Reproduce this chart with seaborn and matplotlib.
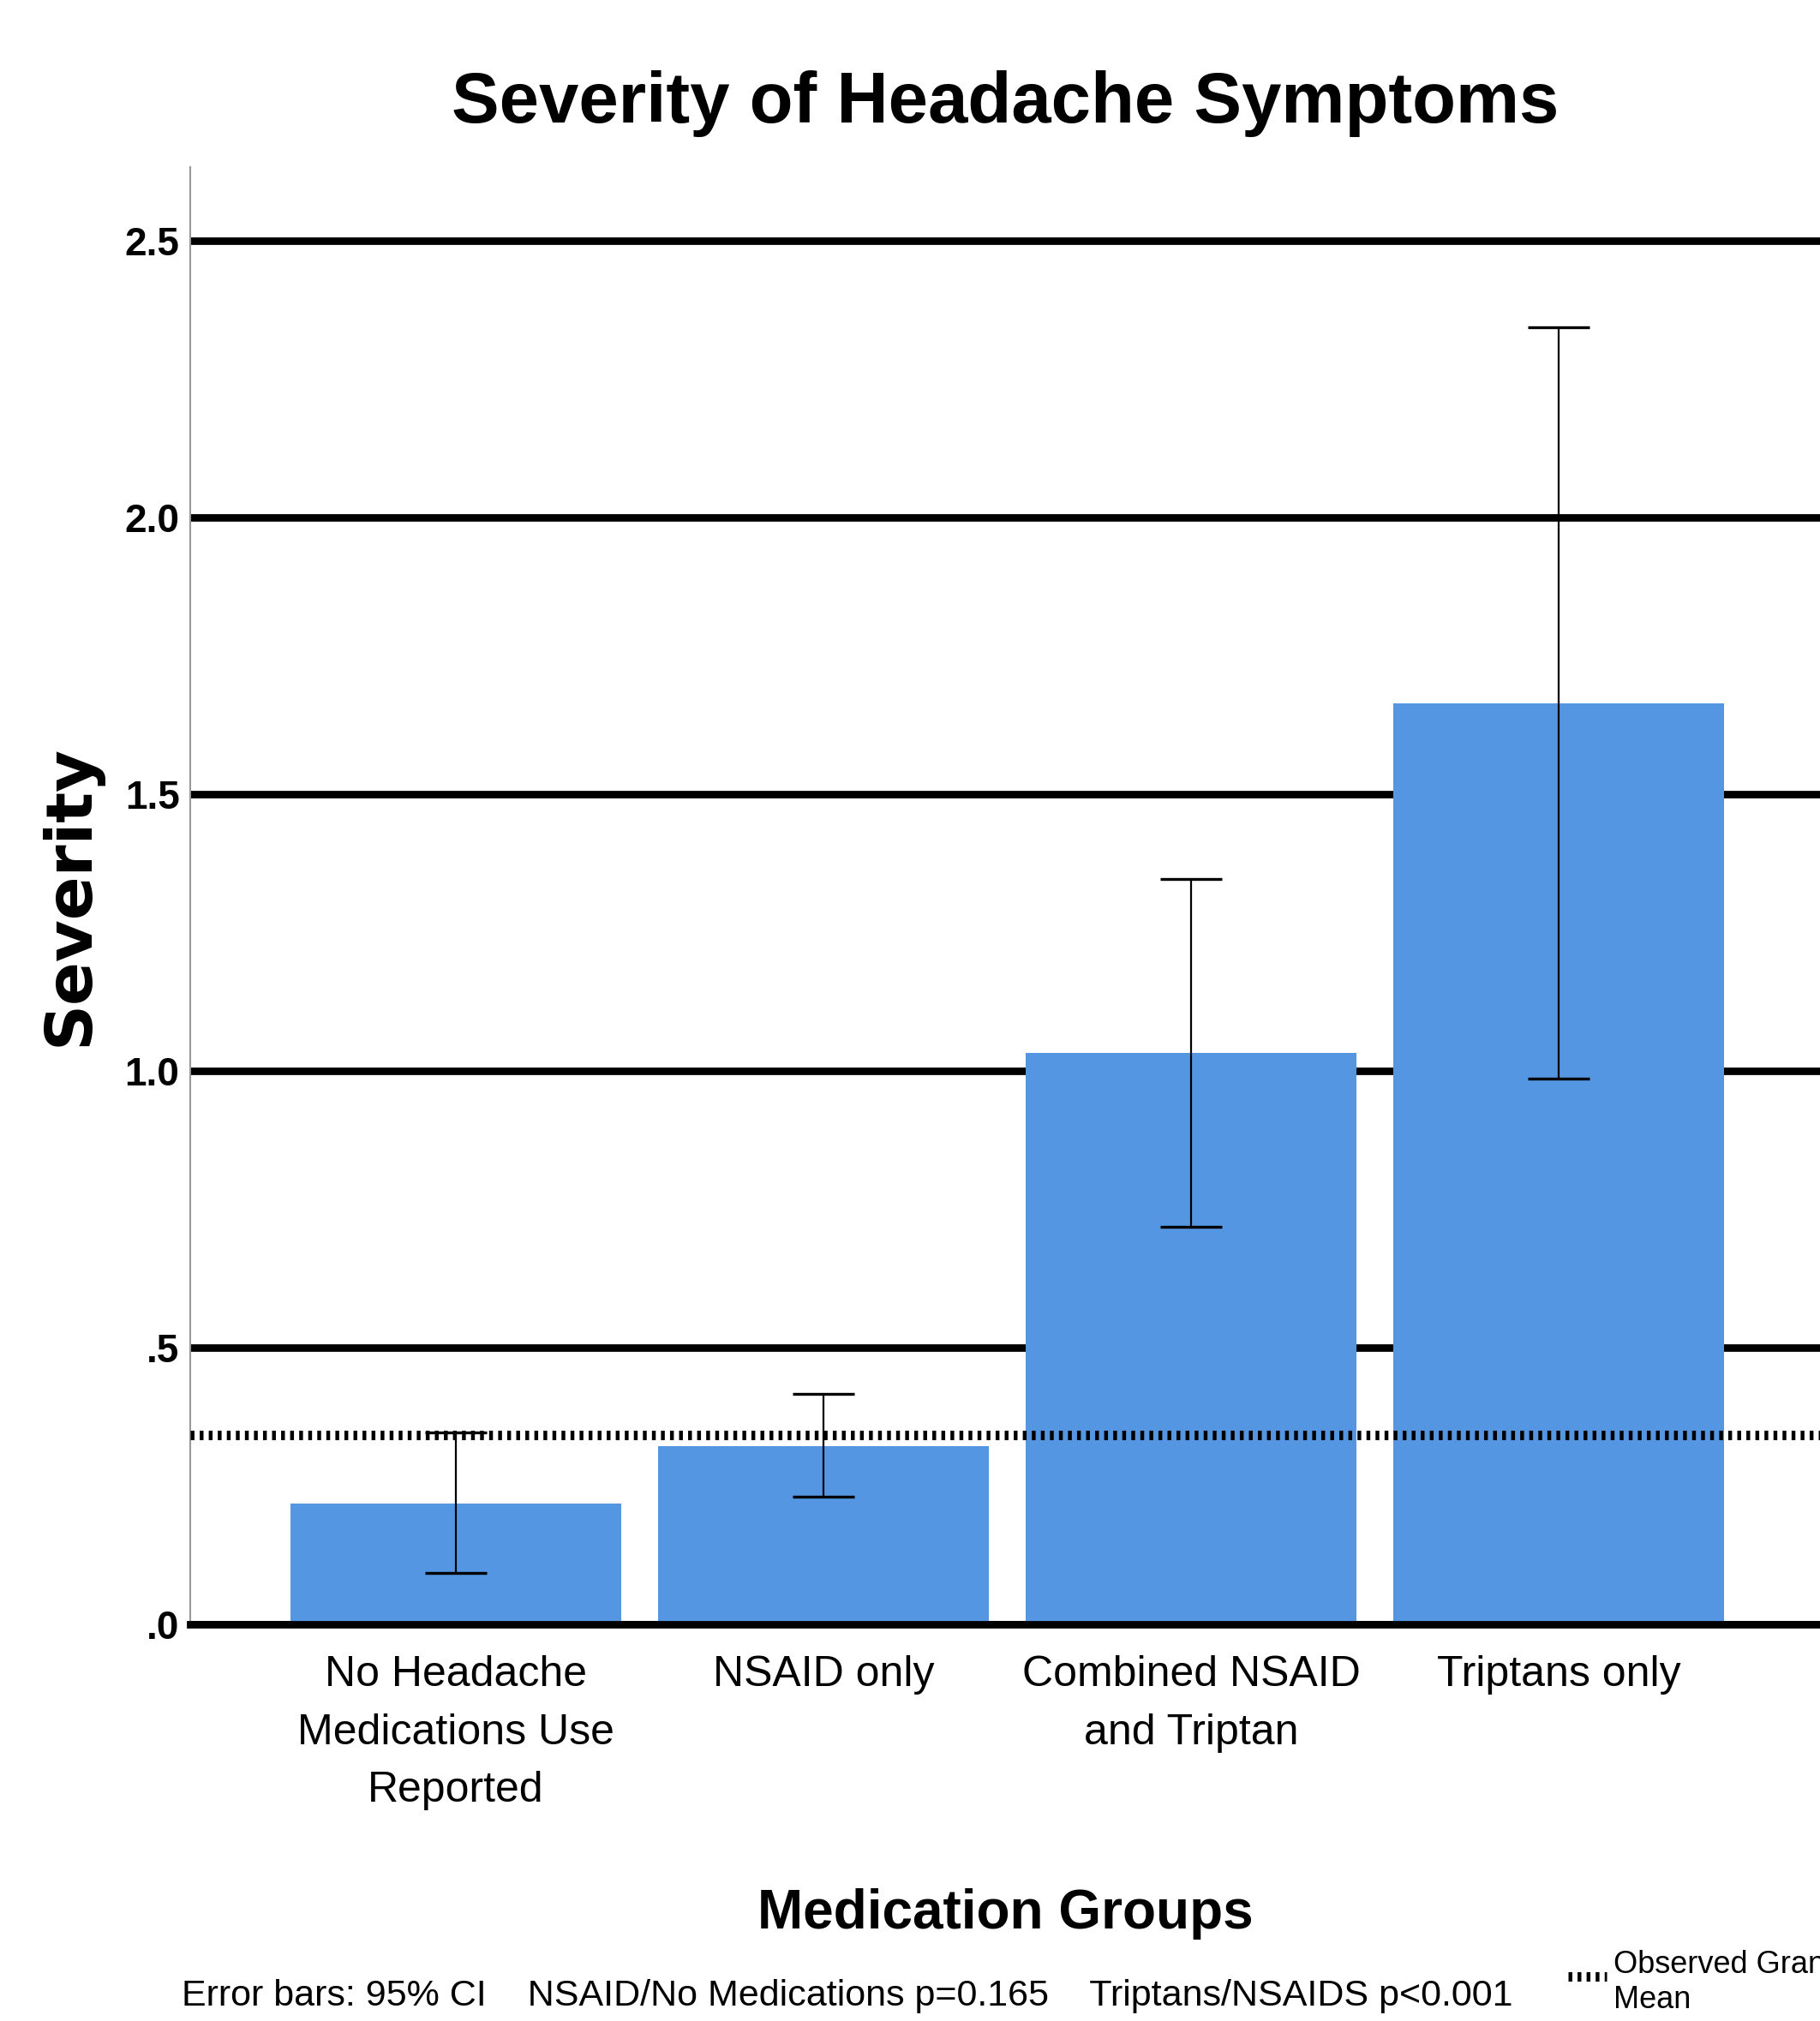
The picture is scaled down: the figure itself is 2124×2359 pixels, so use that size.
import matplotlib
matplotlib.use("Agg")
import matplotlib.pyplot as plt
import seaborn as sns
import pandas as pd
from matplotlib.lines import Line2D

# values
groups = ["No Headache\nMedications Use\nReported", "NSAID only",
          "Combined NSAID\nand Triptan", "Triptans only"]
means = [0.218, 0.322, 1.033, 1.664]
ci_low = [0.093, 0.230, 0.719, 0.986]
ci_high = [0.346, 0.416, 1.347, 2.344]
grand_mean = 0.342
yticks = [0.0, 0.5, 1.0, 1.5, 2.0, 2.5]
ytick_labels = [".0", ".5", "1.0", "1.5", "2.0", "2.5"]

sns.set_style("white")
plt.rcParams["font.family"] = ["Liberation Sans", "DejaVu Sans"]
plt.rcParams["text.color"] = "black"
plt.rcParams["xtick.color"] = "black"
plt.rcParams["ytick.color"] = "black"

df = pd.DataFrame({"group": groups, "severity": means})

W, H = 2124, 2359
fig = plt.figure(figsize=(W / 100, H / 100), dpi=100)
ax = fig.add_axes([222 / W, 1 - 1896 / H, 1 - 222 / W, (1896 - 195) / H])

sns.barplot(data=df, x="group", y="severity", color="#5596E3", width=0.9,
            saturation=1, errorbar=None, linewidth=0, ax=ax)

pos = list(range(len(groups)))
yerr = [[m - lo for m, lo in zip(means, ci_low)],
        [hi - m for m, hi in zip(means, ci_high)]]
ax.errorbar(pos, means, yerr=yerr, fmt="none", ecolor="black",
            elinewidth=1.6, capsize=26, capthick=2.4, zorder=4)

# observed grand mean
ax.axhline(grand_mean, color="black", lw=8, dashes=(0.4, 0.55), zorder=5)

ax.set_xlim(-0.723, 3.711)
ax.set_ylim(0, 2.633)
ax.set_yticks(yticks)
ax.set_yticklabels(ytick_labels, fontsize=33, fontweight="bold")
ax.set_xticks(pos)
ax.set_xticklabels(groups, fontsize=36, linespacing=1.6)
ax.tick_params(axis="both", length=0)
ax.tick_params(axis="y", pad=9)
ax.tick_params(axis="x", pad=26)
ax.set_xlabel("")
ax.set_ylabel("")

ax.yaxis.grid(True, color="black", lw=6.3)
ax.xaxis.grid(False)
ax.set_axisbelow(True)
for side in ["top", "right"]:
    ax.spines[side].set_visible(False)
ax.spines["left"].set_color("#999999")
ax.spines["left"].set_linewidth(1.5)
ax.spines["bottom"].set_color("black")
ax.spines["bottom"].set_linewidth(6.3)

fig.text(0.5523, 1 - 143 / H, "Severity of Headache Symptoms", ha="center",
         va="baseline", fontsize=60, fontweight="bold")
fig.text(0.5523, 1 - 2251 / H, "Medication Groups", ha="center",
         va="baseline", fontsize=46, fontweight="bold")
fig.text(82 / W, 1 - 1045 / H, "Severity", rotation=90, ha="center",
         va="center", fontsize=54, fontweight="bold", family="DejaVu Sans")
fig.text(212 / W, 1 - 2310 / H,
         "Error bars: 95% CI    NSAID/No Medications p=0.165    Triptans/NSAIDS p<0.001",
         ha="left", va="top", fontsize=31)

# legend for the grand mean line
fig.add_artist(Line2D([1830 / W, 1875 / W], [1 - 2307 / H] * 2, transform=fig.transFigure,
                      color="black", lw=8, dashes=(0.4, 0.55)))
fig.text(1883 / W, 1 - 2276 / H, "Observed Grand\nMean", ha="left", va="top",
         fontsize=26, linespacing=1.24)

plt.savefig("out.png", dpi=100)
